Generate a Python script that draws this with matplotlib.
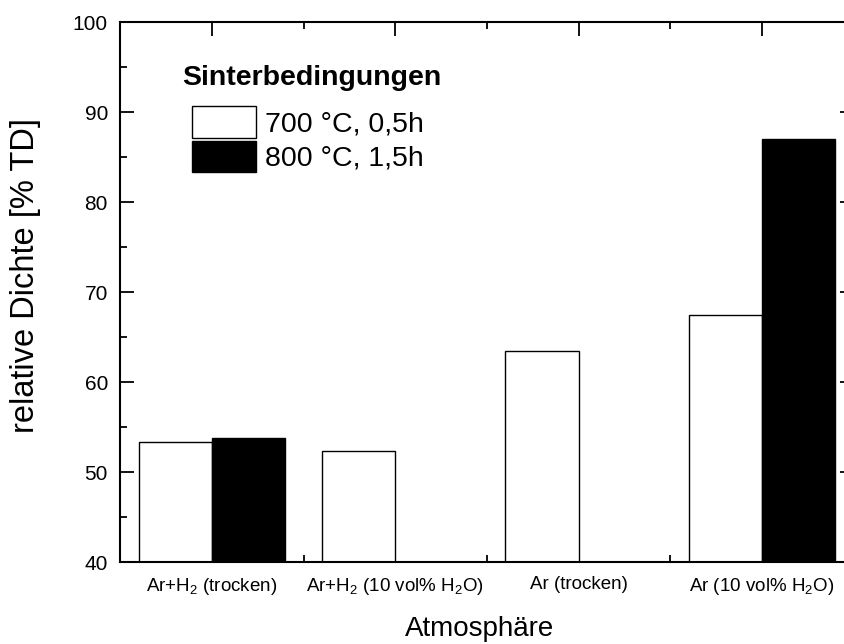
import numpy as np
import matplotlib
matplotlib.use("Agg")
import matplotlib.pyplot as plt
from matplotlib.ticker import MultipleLocator, FixedLocator

plt.rcParams['font.family'] = ['Liberation Sans', 'DejaVu Sans']
plt.rcParams['mathtext.fontset'] = 'custom'
plt.rcParams['mathtext.rm'] = 'Liberation Sans'
plt.rcParams['mathtext.it'] = 'Liberation Sans'

categories = ["Ar+H$_2$ (trocken)", "Ar+H$_2$ (10 vol% H$_2$O)",
              "Ar (trocken)", "Ar (10 vol% H$_2$O)"]
dichte_700 = [53.3, 52.3, 63.5, 67.4]
dichte_800 = [53.8, np.nan, np.nan, 87.0]
series_labels = ["700 °C, 0,5h", "800 °C, 1,5h"]
legend_title = "Sinterbedingungen"

fig = plt.figure(figsize=(8.44, 6.44), dpi=100)
# axes spans slightly past the right figure edge
ax = fig.add_axes([120.5 / 844, 82 / 644, 733 / 844, 540 / 644])

x = np.arange(len(categories))
w = 0.4
ax.bar(x - w / 2, dichte_700, width=w, color="white", edgecolor="black",
       linewidth=1.0, label=series_labels[0], zorder=2)
ax.bar(x + w / 2, dichte_800, width=w, color="black", edgecolor="black",
       linewidth=1.0, label=series_labels[1], zorder=2)

ax.set_xlim(-0.5, 3.5)
ax.set_ylim(40, 100)
ax.set_xticks(x)
ax.set_xticklabels(categories, fontsize=13.5)
ax.xaxis.set_minor_locator(FixedLocator(x[:-1] + 0.5))
ax.yaxis.set_major_locator(MultipleLocator(10))
ax.yaxis.set_minor_locator(MultipleLocator(5))
ax.tick_params(axis="both", which="both", direction="in",
               top=True, right=True, width=1.3)
ax.tick_params(axis="both", which="major", length=10)
ax.tick_params(axis="both", which="minor", length=5)
ax.tick_params(axis="y", labelsize=15, pad=9)
ax.tick_params(axis="x", pad=10)
for s in ax.spines.values():
    s.set_linewidth(1.5)

ax.set_xlabel("Atmosphäre", fontsize=20)
ax.xaxis.set_label_coords(0.4905, -0.100)
ax.set_ylabel("relative Dichte [% TD]", fontsize=23.5)
ax.yaxis.set_label_coords(-0.108, 0.531)

ax.text(0.0839, 0.883, legend_title, transform=ax.transAxes,
        fontsize=20.5, fontweight="bold", ha="left", va="baseline")
leg = ax.legend(loc="upper left", bbox_to_anchor=(0.0975, 0.844),
                frameon=False, fontsize=20.5,
                handlelength=2.25, handleheight=1.33, handletextpad=0.3,
                labelspacing=0.1, borderpad=0.0, borderaxespad=0.0)

fig.savefig("out.png", dpi=100)
